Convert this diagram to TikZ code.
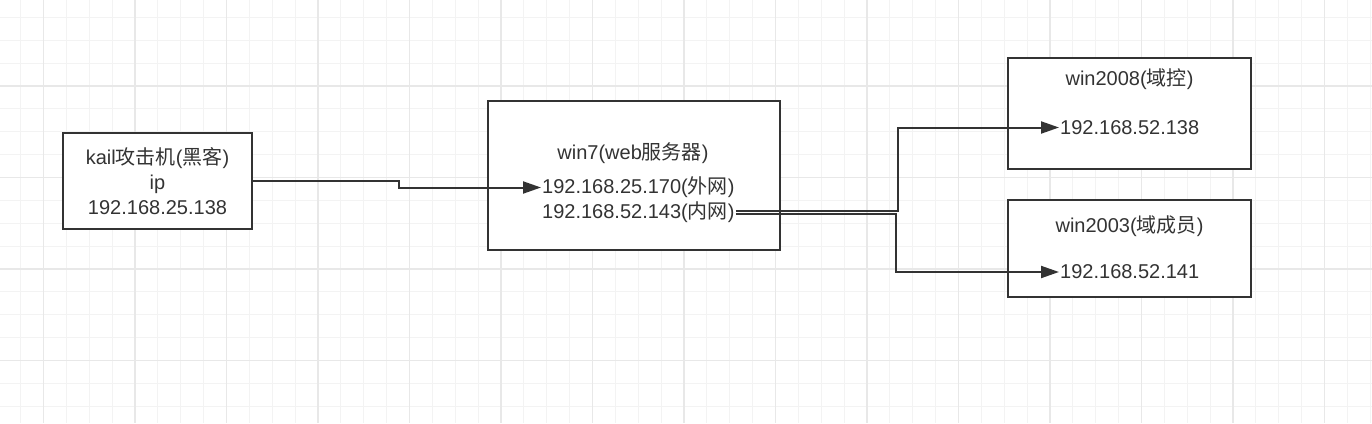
\documentclass[tikz,border=0pt]{standalone}
\usepackage{fontspec}
\setmainfont{Liberation Sans}
\newfontfamily\cjk{Noto Sans CJK SC}
\usetikzlibrary{arrows.meta}
\definecolor{ink}{HTML}{333333}
\definecolor{gridminor}{HTML}{F3F3F3}
\definecolor{gridmajor}{HTML}{E8E8E8}
\tikzset{
  box/.style={draw=ink, line width=2pt, fill=white, inner sep=0pt},
  lbl/.style={text=ink, inner sep=1pt, font=\fontsize{20}{24}\selectfont},
  conn/.style={draw=ink, line width=2pt, -{Triangle[length=18pt,width=12pt]}},
}
\begin{document}
\begin{tikzpicture}[x=1pt,y=-1pt]
\useasboundingbox (0,0) rectangle (1372,423);
\fill[white] (0,0) rectangle (1372,423);
\begin{scope}
\clip (0,0) rectangle (1372,423);
\foreach \i in {-1,...,58} {
  \draw[gridminor, line width=1pt] ({43.5+22.875*\i},0) -- ({43.5+22.875*\i},423);
}
\foreach \i in {-3,...,15} {
  \draw[gridminor, line width=1pt] (0,{86+22.875*\i}) -- (1372,{86+22.875*\i});
}
\foreach \i in {0,...,14} {
  \draw[gridmajor, line width=1.2pt] ({43.5+91.5*\i},0) -- ({43.5+91.5*\i},423);
}
\foreach \i in {0,...,4} {
  \draw[gridmajor, line width=1.2pt] (0,{-5.5+91.5*\i}) -- (1372,{-5.5+91.5*\i});
}
\end{scope}

% boxes
\node[box, minimum width=189pt, minimum height=96pt] (kail) at (157.5,181) {};
\node[box, minimum width=292pt, minimum height=149pt] (win7) at (634,175.5) {};
\node[box, minimum width=243pt, minimum height=111pt] (w08) at (1129.5,113.5) {};
\node[box, minimum width=243pt, minimum height=97pt] (w03) at (1129.5,248.5) {};

% texts
\node[lbl] (kt1) at (157.5,158) {kail{\cjk 攻击机}({\cjk 黑客})};
\node[lbl] (kt2) at (157.5,184) {ip};
\node[lbl] (kt3) at (157.5,208) {192.168.25.138};

\node[lbl] (wt) at (633,153) {win7(web{\cjk 服务器})};
\node[lbl, anchor=west] (ext) at (541,187.5) {192.168.25.170({\cjk 外网})};
\node[lbl, anchor=west] (int) at (541,212) {192.168.52.143({\cjk 内网})};

\node[lbl] (t08) at (1129.5,79) {win2008({\cjk 域控})};
\node[lbl, anchor=west] (ip08) at (1059,127.5) {192.168.52.138};

\node[lbl] (t03) at (1129.5,226) {win2003({\cjk 域成员})};
\node[lbl, anchor=west] (ip03) at (1059,272) {192.168.52.141};

% connectors
\draw[conn] (kail.east) -- ++(146,0) |- (ext.west);
\draw[conn] ([yshift=1.5pt]int.east) -| ([xshift=-161pt]ip08.west) -- (ip08.west);
\draw[conn] ([yshift=-1.5pt]int.east) -| ([xshift=-163pt]ip03.west) -- (ip03.west);
\end{tikzpicture}
\end{document}
